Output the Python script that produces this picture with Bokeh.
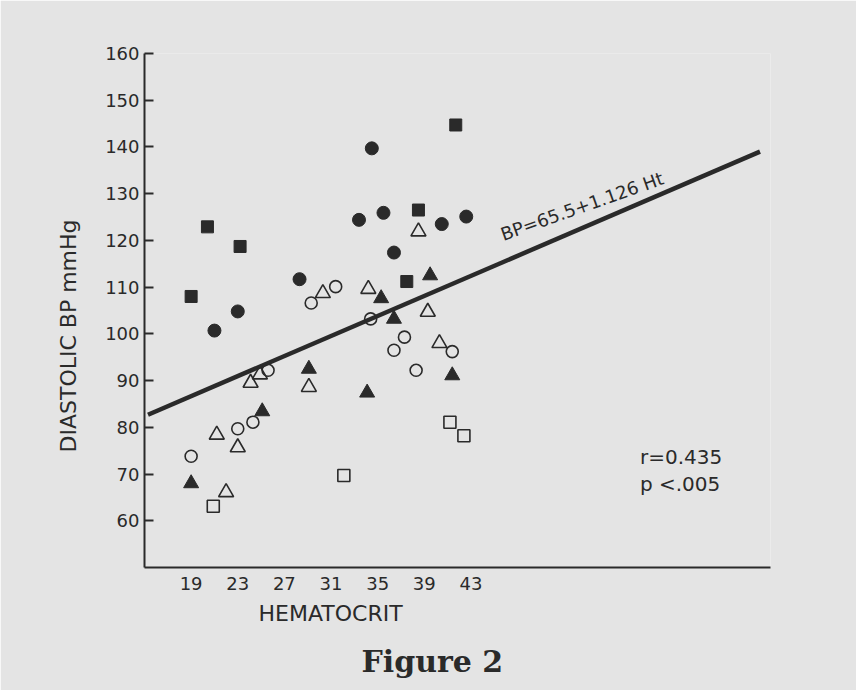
from bokeh.plotting import figure
from bokeh.models import Range1d, FixedTicker, Label, Title
from bokeh.embed import file_html
from bokeh.resources import INLINE

# ---- data ----
# filled squares
fsq_x = [19.0, 20.4, 23.2, 37.5, 38.5, 41.7]
fsq_y = [108.0, 122.9, 118.7, 111.2, 126.5, 144.7]
# filled circles
fci_x = [21.0, 23.0, 28.3, 33.4, 34.5, 35.5, 36.4, 40.5, 42.6]
fci_y = [100.7, 104.8, 111.7, 124.4, 139.7, 125.9, 117.4, 123.5, 125.1]
# open circles
oci_x = [19.0, 23.0, 24.3, 25.6, 29.3, 31.4, 34.4, 36.4, 37.3, 38.3, 41.4]
oci_y = [73.8, 79.7, 81.1, 92.2, 106.6, 110.1, 103.2, 96.5, 99.3, 92.2, 96.2]
# open triangles
otr_x = [21.2, 22.0, 23.0, 24.1, 24.9, 29.1, 30.3, 34.2, 38.5, 39.3, 40.3]
otr_y = [78.4, 66.1, 75.7, 89.5, 91.3, 88.6, 108.7, 109.6, 121.9, 104.7, 98.0]
# filled triangles
ftr_x = [19.0, 25.1, 29.1, 34.1, 35.3, 36.4, 39.5, 41.4]
ftr_y = [68.0, 83.4, 92.5, 87.4, 107.6, 103.2, 112.5, 91.1]
# open squares
osq_x = [20.9, 32.1, 41.2, 42.4]
osq_y = [63.1, 69.7, 81.1, 78.2]
# regression line as drawn
fit_x = [15.3, 67.8]
fit_y = [82.7, 139.0]

x_ticks = [19, 23, 27, 31, 35, 39, 43]
y_ticks = [60, 70, 80, 90, 100, 110, 120, 130, 140, 150, 160]

INK = "#2a2a2a"
BG = "#e4e4e4"
FONT = "DejaVu Sans"

p = figure(width=856, height=690, output_backend="svg", toolbar_location=None,
           x_range=Range1d(15, 68.7), y_range=Range1d(50, 160))
p.min_border_left = 144
p.min_border_right = 86
p.min_border_top = 53
p.min_border_bottom = 123
p.background_fill_color = BG
p.border_fill_color = BG
p.outline_line_color = None
p.xgrid.visible = False
p.ygrid.visible = False

# axes
p.xaxis.ticker = FixedTicker(ticks=x_ticks)
p.xaxis.major_tick_in = 0
p.xaxis.major_tick_out = 0
p.xaxis.minor_tick_line_color = None
p.xaxis.major_label_standoff = 9
p.yaxis.ticker = FixedTicker(ticks=y_ticks)
p.yaxis.major_tick_in = 9
p.yaxis.major_tick_out = 0
p.yaxis.minor_tick_line_color = None
p.yaxis.major_label_standoff = 5
for ax in (p.xaxis, p.yaxis):
    ax.axis_line_color = INK
    ax.axis_line_width = 2
    ax.major_tick_line_color = INK
    ax.major_tick_line_width = 2
    ax.major_label_text_font = FONT
    ax.major_label_text_font_size = "18px"
    ax.major_label_text_color = INK

# regression line
p.line(fit_x, fit_y, line_color=INK, line_width=4.5)

# markers
p.scatter(fsq_x, fsq_y, marker="square", size=12, fill_color=INK, line_color=INK)
p.scatter(fci_x, fci_y, marker="circle", size=13, fill_color=INK, line_color=INK)
p.scatter(oci_x, oci_y, marker="circle", size=12, fill_color=None, line_color=INK, line_width=1.6)
p.scatter(otr_x, otr_y, marker="triangle", size=15, fill_color=None, line_color=INK, line_width=1.6)
p.scatter(ftr_x, ftr_y, marker="triangle", size=15, fill_color=INK, line_color=INK)
p.scatter(osq_x, osq_y, marker="square", size=12, fill_color=None, line_color=INK, line_width=1.6)

# texts inside the frame
p.add_layout(Label(x=45.6, y=121.2, text="BP=65.5+1.126 Ht", text_font=FONT,
                   text_font_size="18px", text_color=INK, angle=19.5, angle_units="deg",
                   text_align="left", text_baseline="alphabetic"))
p.add_layout(Label(x=57.5, y=73.7, text="r=0.435", text_font=FONT,
                   text_font_size="20px", text_color=INK, text_baseline="alphabetic"))
p.add_layout(Label(x=57.5, y=67.8, text="p <.005", text_font=FONT,
                   text_font_size="20px", text_color=INK, text_baseline="alphabetic"))

# titles outside the frame
p.add_layout(Title(text="HEMATOCRIT", text_font=FONT, text_font_size="22px",
                   text_font_style="normal", text_color=INK, align="left", offset=114,
                   vertical_align="top", standoff=16), "below")
p.add_layout(Title(text="Figure 2", text_font="DejaVu Serif", text_font_size="30px",
                   text_font_style="bold", text_color=INK, align="left", offset=217,
                   vertical_align="top", standoff=16), "below")
p.add_layout(Title(text="DIASTOLIC BP mmHg", text_font=FONT, text_font_size="22px",
                   text_font_style="normal", text_color=INK, align="left", offset=115,
                   vertical_align="bottom", standoff=44), "left")

open("out.html", "w").write(file_html(p, INLINE))
